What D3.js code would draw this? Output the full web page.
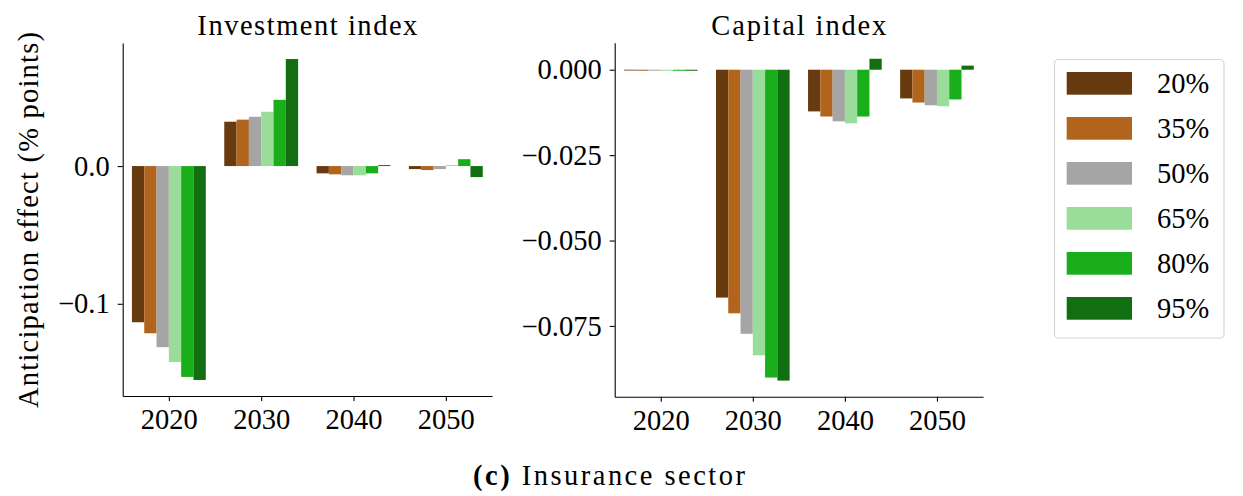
<!DOCTYPE html>
<html>
<head>
<meta charset="utf-8">
<script src="https://cdn.jsdelivr.net/npm/d3@7"></script>
<style>
  html, body { margin: 0; padding: 0; background: #fff; }
  svg text { font-family: "Liberation Serif", "DejaVu Serif", serif; fill: #000; }
</style>
</head>
<body>
<svg id="chart" width="1243" height="496"></svg>
<script>
// Decades on the x axis and the anticipation shares shown as series
const years = ["2020", "2030", "2040", "2050"];
const shares = ["20%", "35%", "50%", "65%", "80%", "95%"];
const colors = ["#673a10", "#b0641c", "#a5a5a5", "#9adc9a", "#1aae1a", "#116f11"];

// Investment index, one array per share (2020, 2030, 2040, 2050)
const inv20 = [-0.1134, 0.0322, -0.0053, -0.0022];
const inv35 = [-0.1214, 0.0337, -0.0060, -0.0029];
const inv50 = [-0.1315, 0.0358, -0.0067, -0.0022];
const inv65 = [-0.1423, 0.0394, -0.0067, 0.0007];
const inv80 = [-0.1531, 0.0481, -0.0053, 0.0050];
const inv95 = [-0.1553, 0.0777, 0.0007, -0.0080];

// Capital index
const cap20 = [-0.0002, -0.0667, -0.0122, -0.0084];
const cap35 = [-0.0003, -0.0713, -0.0137, -0.0096];
const cap50 = [-0.0003, -0.0773, -0.0151, -0.0104];
const cap65 = [-0.0003, -0.0836, -0.0157, -0.0107];
const cap80 = [-0.0003, -0.0901, -0.0137, -0.0087];
const cap95 = [-0.0003, -0.0910, 0.0032, 0.0012];

const invTicks = [-0.1, 0.0];
const capTicks = [0, -0.025, -0.05, -0.075];

const svg = d3.select("#chart");
svg.append("rect").attr("width", 1243).attr("height", 496).attr("fill", "#fff");

const FS = 28.5;

function panel(opts) {
  const { series, left, right, top, bottom, title, ticks, fmt } = opts;
  const all = series.flat();
  const lo = Math.min(0, d3.min(all)), hi = Math.max(0, d3.max(all));
  const pad = (hi - lo) * 0.05;

  const x = d3.scaleLinear().domain([-0.5, years.length - 0.5]).range([left, right]);
  const y = d3.scaleLinear().domain([lo - pad, hi + pad]).range([bottom, top]);

  const g = svg.append("g");
  const groupW = 0.8, barW = groupW / shares.length;

  series.forEach((vals, j) => {
    g.append("g").attr("fill", colors[j])
      .selectAll("rect").data(vals).join("rect")
      .attr("x", (v, i) => x(i - groupW / 2 + j * barW))
      .attr("width", x(barW) - x(0))
      .attr("y", v => y(Math.max(0, v)))
      .attr("height", v => Math.max(0.8, Math.abs(y(v) - y(0))));
  });

  // bottom axis
  const xa = d3.axisBottom(x).tickValues(d3.range(years.length))
    .tickFormat(i => years[i]).tickSize(5).tickPadding(8).tickSizeOuter(0);
  const gx = g.append("g").attr("transform", `translate(0,${bottom})`).call(xa);
  gx.select(".domain").attr("stroke", "#000").attr("stroke-width", 1.1);
  gx.selectAll(".tick line").attr("stroke", "#000").attr("stroke-width", 1.1);
  gx.selectAll(".tick text").attr("font-size", FS).attr("font-family", "Liberation Serif");

  // left axis
  const ya = d3.axisLeft(y).tickValues(ticks).tickFormat(d3.format(fmt))
    .tickSize(5).tickPadding(8).tickSizeOuter(0);
  const gy = g.append("g").attr("transform", `translate(${left},0)`).call(ya);
  gy.select(".domain").attr("stroke", "#000").attr("stroke-width", 1.1);
  gy.selectAll(".tick line").attr("stroke", "#000").attr("stroke-width", 1.1);
  gy.selectAll(".tick text").attr("font-size", FS).attr("font-family", "Liberation Serif");

  g.append("text")
    .attr("x", (left + right) / 2).attr("y", 35)
    .attr("text-anchor", "middle").attr("font-size", FS)
    .attr("textLength", opts.titleLen).attr("lengthAdjust", "spacing")
    .text(title);
}

panel({
  series: [inv20, inv35, inv50, inv65, inv80, inv95],
  left: 122.7, right: 492, top: 43, bottom: 396,
  title: "Investment index", titleLen: 220, ticks: invTicks, fmt: ".1f"
});

panel({
  series: [cap20, cap35, cap50, cap65, cap80, cap95],
  left: 614.7, right: 983, top: 42.7, bottom: 396.7,
  title: "Capital index", titleLen: 175, ticks: capTicks, fmt: ".3f"
});

// shared y label
svg.append("text")
  .attr("transform", "translate(38,220) rotate(-90)")
  .attr("text-anchor", "middle").attr("font-size", FS)
  .attr("textLength", 376).attr("lengthAdjust", "spacing")
  .text("Anticipation effect (% points)");

// legend
const leg = svg.append("g");
leg.append("rect")
  .attr("x", 1054.5).attr("y", 59.5).attr("width", 169.5).attr("height", 278.5)
  .attr("rx", 4).attr("fill", "#fff").attr("stroke", "#d6d6d6").attr("stroke-width", 1.2);
const items = leg.selectAll("g.item").data(shares).join("g")
  .attr("transform", (d, i) => `translate(0,${72 + i * 45})`);
items.append("rect")
  .attr("x", 1066.7).attr("y", 0).attr("width", 65.3).attr("height", 22.7)
  .attr("fill", (d, i) => colors[i]);
items.append("text")
  .attr("x", 1157).attr("y", 11.3).attr("dy", "0.35em")
  .attr("font-size", FS).text(d => d);

// caption
const cap = svg.append("text")
  .attr("x", 609).attr("y", 485).attr("text-anchor", "middle").attr("font-size", FS)
  .attr("textLength", 272).attr("lengthAdjust", "spacing");
cap.append("tspan").attr("font-weight", "bold").text("(c)");
cap.append("tspan").text(" Insurance sector");
</script>
</body>
</html>
